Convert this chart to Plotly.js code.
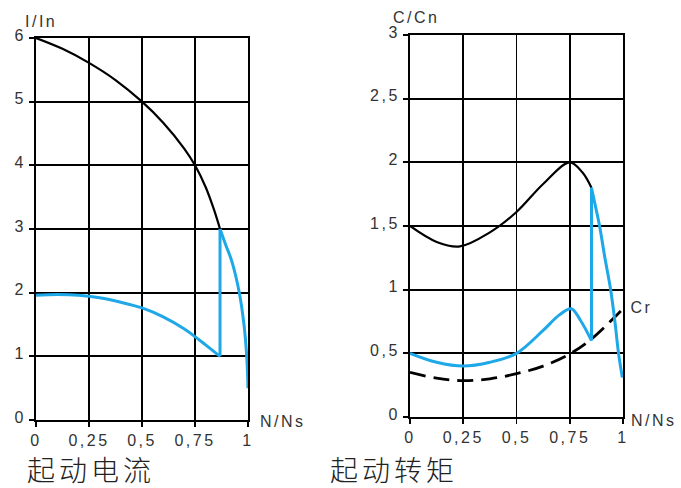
<!DOCTYPE html>
<html>
<head>
<meta charset="utf-8">
<script src="https://cdn.plot.ly/plotly-3.0.1.min.js"></script>
<style>
html,body{margin:0;padding:0;background:#fff;}
#chart{width:681px;height:488px;}
#chart svg text{letter-spacing:2.5px;}
#chart .annotation[data-index="5"] text, #chart .annotation[data-index="6"] text{letter-spacing:4px;}
</style>
</head>
<body>
<div id="chart"></div>
<script>
// Tick labels
const xTickVals = [0, 0.25, 0.5, 0.75, 1];
const xTickText = ["0", "0,25", "0,5", "0,75", "1"];
const y1TickVals = [0, 1, 2, 3, 4, 5, 6];
const y1TickText = ["0", "1", "2", "3", "4", "5", "6"];
const y2TickVals = [0, 0.5, 1, 1.5, 2, 2.5, 3];
const y2TickText = ["0", "0,5", "1", "1,5", "2", "2,5", "3"];

// Left chart: starting current I/In vs N/Ns
const curDirectX = [0, 0.125, 0.25, 0.375, 0.5, 0.6, 0.7, 0.75, 0.8, 0.84, 0.868];
const curDirectY = [6, 5.83, 5.61, 5.34, 5.0, 4.67, 4.26, 4.0, 3.66, 3.3, 3.0];
const curStarLowX = [0, 0.1, 0.2, 0.3, 0.4, 0.5, 0.6, 0.7, 0.75, 0.8, 0.868];
const curStarLowY = [1.96, 1.97, 1.96, 1.92, 1.85, 1.76, 1.62, 1.43, 1.31, 1.18, 1.0];
const curStarHighX = [0.868, 0.895, 0.923, 0.959, 0.981, 0.994, 1.0];
const curStarHighY = [3.0, 2.75, 2.5, 2.0, 1.5, 1.0, 0.5];

// Right chart: starting torque C/Cn vs N/Ns
const torDirectX = [0, 0.125, 0.234, 0.375, 0.5, 0.625, 0.75, 0.81, 0.852];
const torDirectY = [1.5, 1.375, 1.34, 1.45, 1.61, 1.83, 2.0, 1.92, 1.80];
const torStarLowX = [0, 0.125, 0.25, 0.375, 0.5, 0.625, 0.7, 0.757, 0.8, 0.852];
const torStarLowY = [0.5, 0.43, 0.40, 0.43, 0.5, 0.68, 0.80, 0.85, 0.76, 0.60];
const torStarHighX = [0.852, 0.87, 0.89, 0.915, 0.942, 0.962, 0.979, 0.997];
const torStarHighY = [1.80, 1.66, 1.5, 1.25, 1.0, 0.75, 0.5, 0.31];
const loadX = [0, 0.125, 0.25, 0.375, 0.5, 0.625, 0.75, 0.85, 1.0];
const loadY = [0.35, 0.305, 0.285, 0.30, 0.34, 0.40, 0.495, 0.61, 0.85];

const BLUE = "#1ea8e8";
const blackLine = {color: "#000", width: 2.2, shape: "spline", smoothing: 1};
const blueCurve = {color: BLUE, width: 3, shape: "spline", smoothing: 1};
const blueStraight = {color: BLUE, width: 3};
function last(a) { return a[a.length - 1]; }
const traces = [
  {x: curDirectX, y: curDirectY, xaxis: "x", yaxis: "y", mode: "lines", line: blackLine},
  {x: curStarLowX, y: curStarLowY, xaxis: "x", yaxis: "y", mode: "lines", line: blueCurve},
  {x: [last(curStarLowX), curStarHighX[0]], y: [last(curStarLowY), curStarHighY[0]], xaxis: "x", yaxis: "y", mode: "lines", line: blueStraight},
  {x: curStarHighX, y: curStarHighY, xaxis: "x", yaxis: "y", mode: "lines", line: blueCurve},
  {x: loadX, y: loadY, xaxis: "x2", yaxis: "y2", mode: "lines", line: {color: "#000", width: 2.8, dash: "16px,8px", shape: "spline"}},
  {x: torDirectX, y: torDirectY, xaxis: "x2", yaxis: "y2", mode: "lines", line: blackLine},
  {x: torStarLowX, y: torStarLowY, xaxis: "x2", yaxis: "y2", mode: "lines", line: blueCurve},
  {x: [last(torStarLowX), torStarHighX[0]], y: [last(torStarLowY), torStarHighY[0]], xaxis: "x2", yaxis: "y2", mode: "lines", line: blueStraight},
  {x: torStarHighX, y: torStarHighY, xaxis: "x2", yaxis: "y2", mode: "lines", line: blueCurve}
];
traces.forEach(t => { t.hoverinfo = "skip"; });

const tickFont = {family: "Liberation Sans, Arial, sans-serif", size: 16, color: "#333"};
function axisBase() {
  return {showgrid: true, gridcolor: "#000", gridwidth: 1.8, showline: true, linecolor: "#000", linewidth: 2,
    mirror: true, ticks: "outside", ticklen: 5, tickcolor: "#000", tickwidth: 1.8, zeroline: false,
    tickfont: tickFont, fixedrange: true};
}
function xa(domain, anchor) {
  return Object.assign(axisBase(), {domain: domain, anchor: anchor, range: [0, 1], tickvals: xTickVals, ticktext: xTickText});
}
function ya(domain, anchor, vals, text, range) {
  return Object.assign(axisBase(), {domain: domain, anchor: anchor, range: range, tickvals: vals, ticktext: text, ticklabelshift: -3});
}
function px(x) { return x / 681; }
function py(y) { return 1 - y / 488; }
const lblFont = {family: "Liberation Sans, Arial, sans-serif", size: 16, color: "#333"};
const cjkFont = {family: "Noto Sans CJK SC", size: 28, color: "#222", weight: 300};
const layout = {
  width: 681, height: 488,
  margin: {l: 0, r: 0, t: 0, b: 0},
  paper_bgcolor: "#fff", plot_bgcolor: "#fff",
  showlegend: false,
  xaxis: xa([px(36), px(248)], "y"),
  yaxis: ya([py(420), py(38)], "x", y1TickVals, y1TickText, [0, 6]),
  xaxis2: xa([px(410), px(623)], "y2"),
  yaxis2: ya([py(417), py(35)], "x2", y2TickVals, y2TickText, [0, 3]),
  annotations: [
    {text: "I/In", xref: "paper", yref: "paper", x: px(28), y: py(22), xanchor: "left", yanchor: "middle", showarrow: false, font: lblFont},
    {text: "C/Cn", xref: "paper", yref: "paper", x: px(396), y: py(17), xanchor: "left", yanchor: "middle", showarrow: false, font: lblFont},
    {text: "N/Ns", xref: "paper", yref: "paper", x: px(263), y: py(421), xanchor: "left", yanchor: "middle", showarrow: false, font: lblFont},
    {text: "N/Ns", xref: "paper", yref: "paper", x: px(634), y: py(420), xanchor: "left", yanchor: "middle", showarrow: false, font: lblFont},
    {text: "Cr", xref: "paper", yref: "paper", x: px(631), y: py(307), xanchor: "left", yanchor: "middle", showarrow: false, font: lblFont},
    {text: "起动电流", xref: "paper", yref: "paper", x: px(33), y: py(469), xanchor: "left", yanchor: "middle", showarrow: false, font: cjkFont},
    {text: "起动转矩", xref: "paper", yref: "paper", x: px(336), y: py(469), xanchor: "left", yanchor: "middle", showarrow: false, font: cjkFont}
  ]
};
Plotly.newPlot("chart", traces, layout, {staticPlot: true, displayModeBar: false});
</script>
</body>
</html>
